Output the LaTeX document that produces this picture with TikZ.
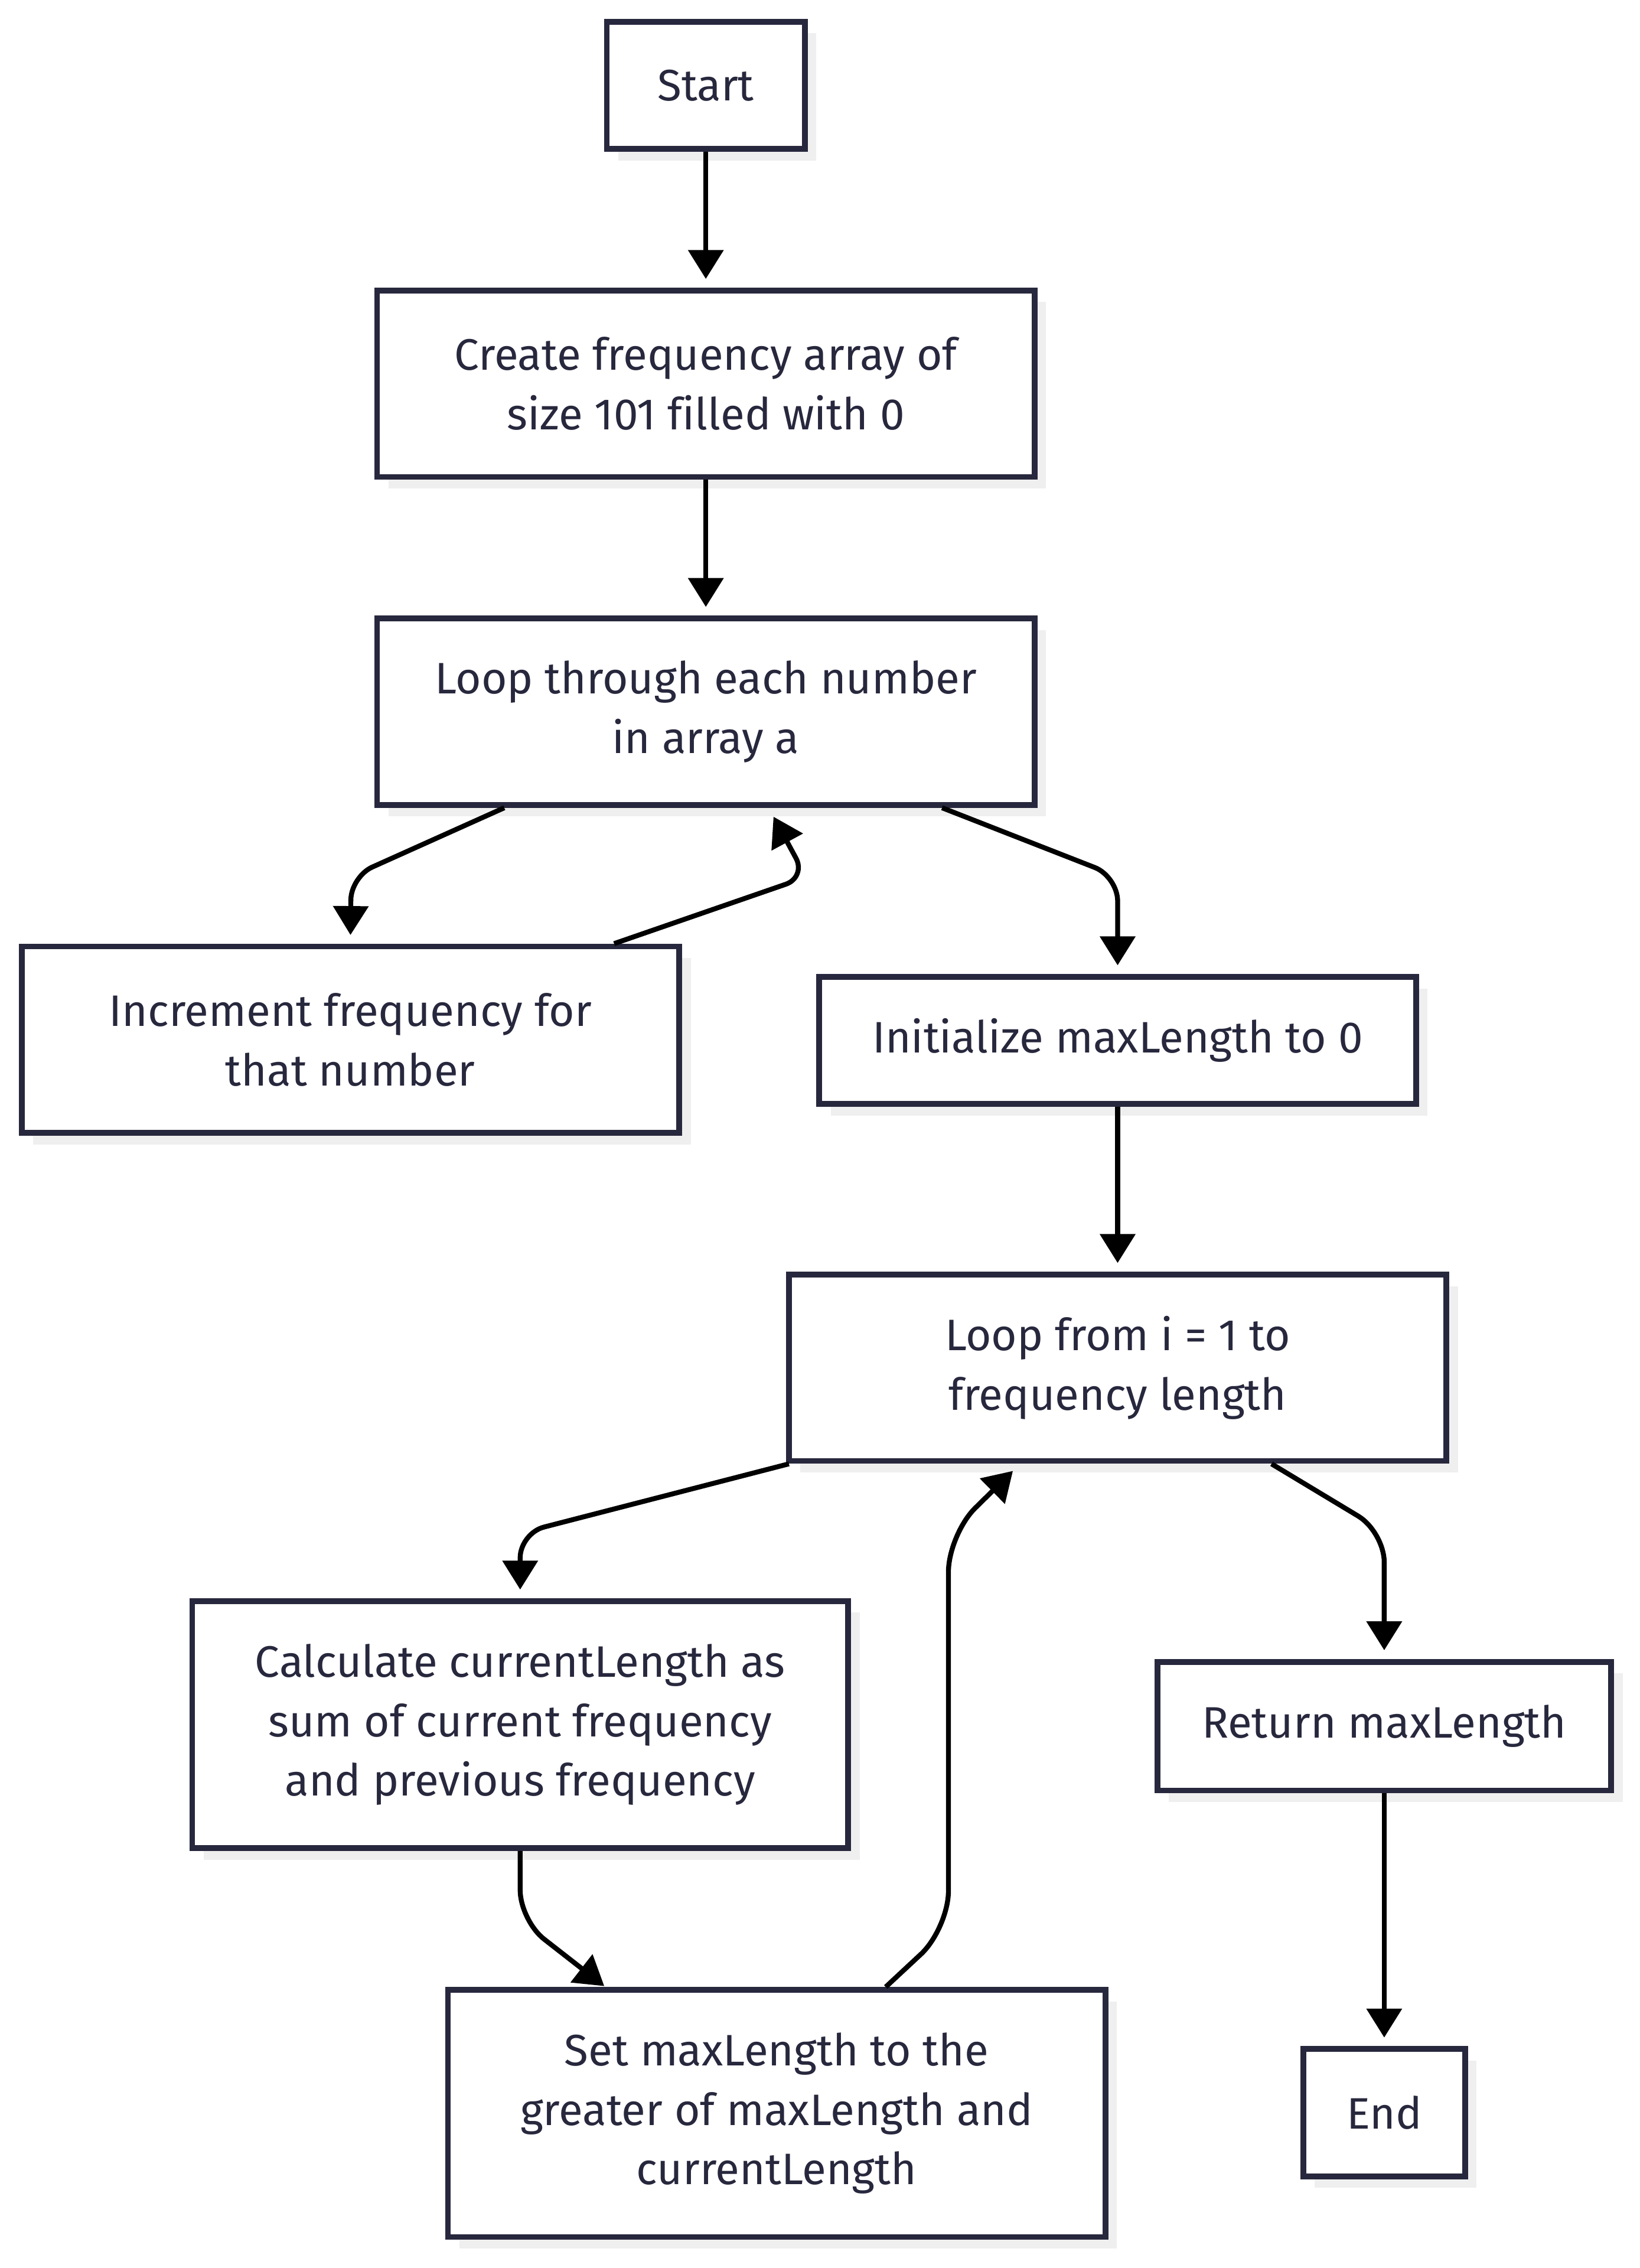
\documentclass[tikz,border=0pt]{standalone}
\usepackage{fontspec}
\setmainfont{Fira Sans}[Ligatures=NoCommon]
\usetikzlibrary{arrows.meta,shadows}
\definecolor{boxline}{HTML}{27273D}
\definecolor{shade}{HTML}{EFEFEF}

\begin{document}
\begin{tikzpicture}[x=1pt,y=-1pt,
  box/.style={draw=boxline, line width=4pt, fill=white, align=center, inner sep=0pt,
    text=boxline, font=\fontsize{30.5}{41}\selectfont,
    drop shadow={shadow xshift=8pt, shadow yshift=-8pt, fill=shade, opacity=1}},
  flow/.style={draw=black, line width=3.4pt, -{Triangle[length=20pt,width=24pt]},
    shorten >=6pt, rounded corners=18pt}]
\useasboundingbox (0,0) rectangle (1135,1569.5);

% boxes
\node[box, minimum width=137pt, minimum height=88pt] (start) at (488.5,59) {Start};
\node[box, minimum width=455pt, minimum height=129pt] (create) at (488.5,265.5) {Create frequency array of\\size 101 filled with 0};
\node[box, minimum width=455pt, minimum height=129pt] (loopa) at (488.5,492.5) {Loop through each number\\in array a};
\node[box, minimum width=455pt, minimum height=129pt] (incr) at (242.5,719.5) {Increment frequency for\\that number};
\node[box, minimum width=413pt, minimum height=88pt] (init) at (773.5,720) {Initialize maxLength to 0};
\node[box, minimum width=455pt, minimum height=129pt] (loopb) at (773.5,946.5) {Loop from i = 1 to\\frequency length};
\node[box, minimum width=454pt, minimum height=171pt] (calc) at (360,1193.5) {Calculate currentLength as\\sum of current frequency\\and previous frequency};
\node[box, minimum width=314pt, minimum height=89pt] (ret) at (958,1194.5) {Return maxLength};
\node[box, minimum width=455pt, minimum height=171pt] (setm) at (537.5,1462.5) {Set maxLength to the\\greater of maxLength and\\currentLength};
\node[box, minimum width=112pt, minimum height=88pt] (fin) at (958,1462) {End};

% connectors
\draw[flow] (start) -- (create);
\draw[flow] (create) -- (loopa);
\draw[flow, rounded corners=16pt] ([xshift=90pt]loopa.south west) -- (243,606.6) -- (incr.north);
\draw[flow, rounded corners=15pt, shorten >=7pt] ([xshift=412pt]incr.north west) -- (558,607) -- ([xshift=273pt]loopa.south west);
\draw[flow, rounded corners=17pt] ([xshift=393pt]loopa.south west) -- (773.5,606.5) -- (init.north);
\draw[flow] (init) -- (loopb);
\draw[flow, rounded corners=17pt] ([xshift=2pt]loopb.south west) -- (360,1061) -- (calc.north);
\draw[flow, rounded corners=21pt, shorten >=1pt] (calc.south) -- (360,1329) -- ([xshift=111pt]setm.north west);
\draw[flow, rounded corners=26pt, shorten >=7pt] ([xshift=305pt]setm.north west) -- (656.4,1334.6) -- (656.4,1061.8) -- ([xshift=162pt]loopb.south west);
\draw[flow, rounded corners=21pt] ([xshift=336pt]loopb.south west) -- (958,1060) -- (ret.north);
\draw[flow] (ret) -- (fin);
\end{tikzpicture}
\end{document}
